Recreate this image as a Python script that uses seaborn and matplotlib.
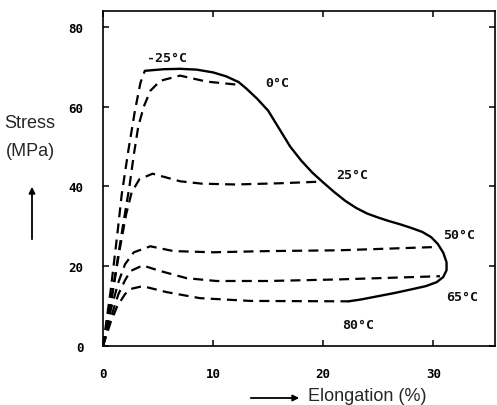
import numpy as np
import pandas as pd
import seaborn as sns
import matplotlib.pyplot as plt

# stress-strain curves (elongation %, stress MPa)
x_m25 = [0, 0.7, 1.3, 1.7, 2.3, 2.9, 3.4, 3.8]
y_m25 = [0, 14, 28, 38, 49, 59, 66, 69]

x_0 = [0, 1.0, 1.8, 2.4, 2.8, 3.2, 3.7, 4.3, 5.2, 7.0, 9.4, 12.3]
y_0 = [0, 16, 30, 40, 48, 55, 60, 64, 66.5, 67.8, 66.3, 65.5]

x_25 = [0, 0.8, 1.5, 2.1, 2.6, 3.3, 4.5, 7.0, 9.0, 12.0, 16.0, 19.7]
y_25 = [0, 12, 24, 33, 38.5, 41.8, 43.2, 41.3, 40.7, 40.5, 40.8, 41.2]

x_50 = [0, 0.7, 1.4, 2.0, 2.8, 4.3, 6.4, 10.0, 15.0, 21.5, 30.0]
y_50 = [0, 9, 16, 20.5, 23.5, 25, 23.8, 23.5, 23.8, 24, 24.8]

x_65 = [0, 0.7, 1.4, 2.0, 2.5, 3.6, 5.2, 7.6, 10.3, 15.0, 21.5, 30.6]
y_65 = [0, 7, 13, 16.5, 18.8, 20.2, 18.8, 17, 16.3, 16.3, 16.7, 17.5]

x_80 = [0, 0.7, 1.3, 2.0, 2.5, 3.6, 5.8, 8.8, 13.4, 22.3]
y_80 = [0, 6, 10, 13, 14.3, 15, 13.5, 12, 11.3, 11.2]

# failure envelope (solid)
x_env = [3.8, 5.5, 7.0, 8.5, 10.0, 11.2, 12.3, 13.0, 14.0, 15.0, 16.0, 17.0,
         18.0, 19.0, 20.0, 21.0, 22.0, 23.0, 24.0, 25.0, 26.0, 27.0, 28.0,
         29.0, 29.8, 30.4, 30.9, 31.2, 31.2, 30.9, 30.3, 29.3, 28.0, 26.5,
         25.0, 23.5, 22.3]
y_env = [69, 69.4, 69.5, 69.3, 68.6, 67.6, 66.2, 64.6, 62.0, 59.0, 54.5, 50.0,
         46.5, 43.5, 41.0, 38.6, 36.4, 34.6, 33.2, 32.2, 31.3, 30.5, 29.6,
         28.6, 27.3, 25.6, 23.4, 21.0, 19.0, 17.3, 16.0, 15.0, 14.2, 13.3,
         12.5, 11.7, 11.2]

labels = ["-25°C", "0°C", "25°C", "50°C", "65°C", "80°C"]
label_x = [5.8, 15.8, 22.6, 32.3, 32.6, 23.2]
label_y = [72.3, 66, 43, 28, 12.3, 5.3]

sns.set_style("ticks")
plt.rcParams['font.family'] = ['DejaVu Sans Mono', 'DejaVu Sans']

fig = plt.figure(figsize=(4.97, 4.06), dpi=100)
ax = fig.add_axes([103 / 497, 59 / 406, 392 / 497, 335 / 406])

dash = (0, (4.5, 2.8))
for xs, ys in [(x_m25, y_m25), (x_0, y_0), (x_25, y_25),
               (x_50, y_50), (x_65, y_65), (x_80, y_80)]:
    d = pd.DataFrame({"x": xs, "y": ys})
    sns.lineplot(data=d, x="x", y="y", sort=False, estimator=None,
                 color="black", lw=1.6, linestyle=dash, ax=ax)

env = pd.DataFrame({"x": x_env, "y": y_env})
sns.lineplot(data=env, x="x", y="y", sort=False, estimator=None,
             color="black", lw=1.7, ax=ax)

for t, lx, ly in zip(labels, label_x, label_y):
    ax.text(lx, ly, t, ha="center", va="center", fontsize=9.5,
            fontweight="bold", color="#111111")

ax.set_xlim(0, 35.6)
ax.set_ylim(0, 84)
ax.set_xticks([0, 10, 20, 30])
ax.set_yticks([0, 20, 40, 60, 80])
ax.set_xlabel("")
ax.set_ylabel("")
ax.tick_params(direction="in", length=4, width=1.1, top=True, right=True,
               labelsize=9, colors="black")
ax.tick_params(axis="x", pad=15)
ax.tick_params(axis="y", pad=14)
for lab in ax.get_xticklabels() + ax.get_yticklabels():
    lab.set_fontweight("bold")
for sp in ax.spines.values():
    sp.set_linewidth(1.2)
    sp.set_color("black")

# axis titles with arrows, as on the original plot
fig.text(30 / 497, 1 - 123 / 406, "Stress", ha="center", va="center",
         fontsize=13, family="Liberation Sans")
fig.text(30 / 497, 1 - 152 / 406, "(MPa)", ha="center", va="center",
         fontsize=13, family="Liberation Sans")
fig.text(308 / 497, 1 - 397 / 406, "Elongation (%)", ha="left", va="center",
         fontsize=13, family="Liberation Sans")

ax.annotate("", xy=(32 / 497, 1 - 185 / 406), xytext=(32 / 497, 1 - 243 / 406),
            xycoords="figure fraction", textcoords="figure fraction",
            arrowprops=dict(arrowstyle="-|>", color="black", lw=1.3,
                            mutation_scale=9))
ax.annotate("", xy=(302 / 497, 1 - 399 / 406), xytext=(248 / 497, 1 - 399 / 406),
            xycoords="figure fraction", textcoords="figure fraction",
            arrowprops=dict(arrowstyle="-|>", color="black", lw=1.3,
                            mutation_scale=9))

fig.savefig("out.png", dpi=100)
